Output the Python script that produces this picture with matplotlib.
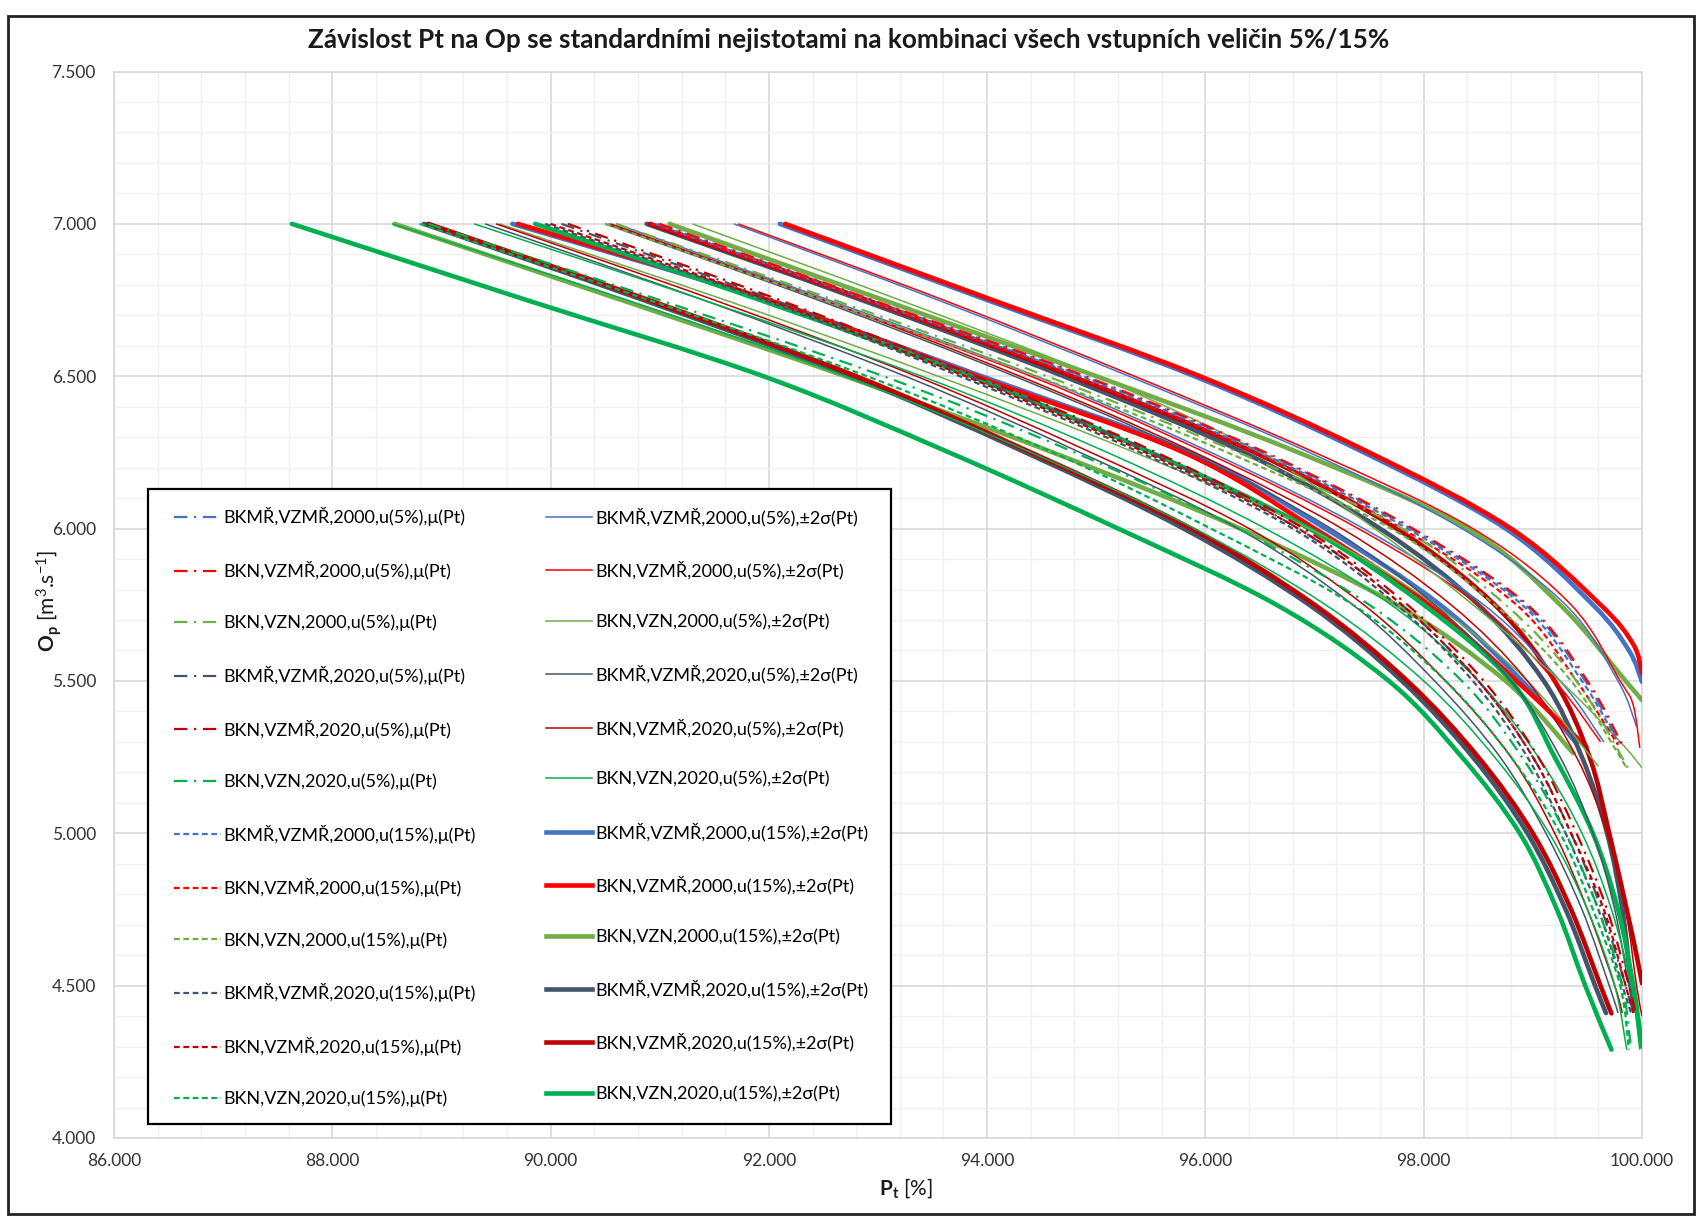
import matplotlib
matplotlib.use('Agg')
import matplotlib.pyplot as plt
from matplotlib.ticker import MultipleLocator, FormatStrFormatter
from matplotlib.patches import Rectangle, PathPatch
from matplotlib.path import Path
from matplotlib.lines import Line2D

plt.rcParams['font.family'] = ['Lato', 'DejaVu Sans']
plt.rcParams['mathtext.fontset'] = 'custom'
plt.rcParams['mathtext.rm'] = 'Lato'
plt.rcParams['mathtext.it'] = 'Lato:italic'
plt.rcParams['mathtext.bf'] = 'Lato:bold'

# ---------------- data ----------------
scenarios = ["BKMŘ,VZMŘ,2000", "BKN,VZMŘ,2000", "BKN,VZN,2000",
             "BKMŘ,VZMŘ,2020", "BKN,VZMŘ,2020", "BKN,VZN,2020"]
colors = ["#4472C4", "#FF0000", "#70AD47", "#44546A", "#C00000", "#00B050"]

# Scenario A : BKMŘ,VZMŘ,2000
A_mu5 = ([90.98, 92.93, 94.88, 96.53, 97.88, 98.93, 99.48, 99.80], [7.0, 6.75, 6.5, 6.25, 6.0, 5.75, 5.5, 5.29])
A_mu15 = ([90.95, 92.90, 94.85, 96.50, 97.85, 98.90, 99.45, 99.78], [7.0, 6.75, 6.5, 6.25, 6.0, 5.75, 5.5, 5.30])
A_lo5 = ([90.60, 92.55, 94.45, 96.05, 97.45, 98.55, 99.25, 99.65], [7.0, 6.75, 6.5, 6.25, 6.0, 5.75, 5.5, 5.30])
A_up5 = ([91.68, 93.55, 95.30, 96.95, 98.35, 99.30, 99.78, 99.95], [7.0, 6.75, 6.5, 6.25, 6.0, 5.75, 5.5, 5.35])
A_lo15 = ([89.65, 91.98, 93.95, 95.85, 97.10, 98.15, 98.90, 99.40], [7.0, 6.75, 6.5, 6.25, 6.0, 5.75, 5.5, 5.295])
A_up15 = ([92.10, 94.00, 95.90, 97.45, 98.75, 99.55, 99.88, 100.0], [7.0, 6.75, 6.5, 6.25, 6.0, 5.75, 5.6, 5.497])

# Scenario B : BKN,VZMŘ,2000
B_mu5 = ([91.00, 92.95, 94.90, 96.55, 97.90, 98.95, 99.50, 99.82], [7.0, 6.75, 6.5, 6.25, 6.0, 5.75, 5.5, 5.29])
B_mu15 = ([90.92, 92.88, 94.80, 96.45, 97.80, 98.85, 99.40, 99.78], [7.0, 6.75, 6.5, 6.25, 6.0, 5.75, 5.5, 5.29])
B_lo5 = ([90.53, 92.50, 94.40, 96.00, 97.40, 98.50, 99.20, 99.62], [7.0, 6.75, 6.5, 6.25, 6.0, 5.75, 5.5, 5.30])
B_up5 = ([91.72, 93.60, 95.35, 97.00, 98.45, 99.35, 99.80, 99.92, 99.98], [7.0, 6.75, 6.5, 6.25, 6.0, 5.75, 5.5, 5.42, 5.28])
B_lo15 = ([89.70, 92.00, 93.90, 95.80, 97.00, 98.05, 98.85, 99.49], [7.0, 6.75, 6.5, 6.25, 6.0, 5.75, 5.5, 5.284])
B_up15 = ([92.15, 94.05, 95.95, 97.50, 98.80, 99.62, 99.92, 100.0], [7.0, 6.75, 6.5, 6.25, 6.0, 5.75, 5.62, 5.525])

# Scenario C : BKN,VZN,2000
C_mu5 = ([90.60, 92.60, 94.55, 96.30, 97.80, 98.75, 99.40, 99.87], [7.0, 6.75, 6.5, 6.25, 6.0, 5.75, 5.5, 5.215])
C_mu15 = ([90.50, 92.50, 94.45, 96.20, 97.70, 98.65, 99.35, 99.85], [7.0, 6.75, 6.5, 6.25, 6.0, 5.75, 5.5, 5.22])
C_lo5 = ([89.53, 91.60, 93.55, 95.35, 96.95, 98.10, 98.95, 99.60], [7.0, 6.75, 6.5, 6.25, 6.0, 5.75, 5.5, 5.22])
C_up5 = ([91.30, 93.20, 95.00, 96.50, 97.55, 98.45, 99.25, 99.80, 100.0], [7.0, 6.75, 6.5, 6.25, 6.0, 5.75, 5.5, 5.3, 5.215])
C_lo15 = ([88.57, 90.65, 92.70, 94.60, 96.32, 97.75, 98.75, 99.37], [7.0, 6.75, 6.5, 6.25, 6.0, 5.75, 5.5, 5.263])
C_up15 = ([91.09, 93.05, 95.00, 96.85, 98.40, 99.25, 99.85, 100.0], [7.0, 6.75, 6.5, 6.25, 6.0, 5.75, 5.5, 5.437])

# Scenario D : BKMŘ,VZMŘ,2020
D_mu5 = ([90.10, 92.05, 93.85, 95.50, 96.85, 97.80, 98.50, 99.00, 99.35, 99.63, 99.85, 99.92],
         [7.0, 6.75, 6.5, 6.25, 6.0, 5.75, 5.5, 5.25, 5.0, 4.75, 4.5, 4.41])
D_mu15 = ([89.95, 91.95, 93.75, 95.40, 96.80, 97.75, 98.45, 98.95, 99.30, 99.60, 99.82, 99.90],
          [7.0, 6.75, 6.5, 6.25, 6.0, 5.75, 5.5, 5.25, 5.0, 4.75, 4.5, 4.41])
D_lo5 = ([89.40, 91.40, 93.25, 94.85, 96.30, 97.35, 98.10, 98.70, 99.12, 99.45, 99.70, 99.78],
         [7.0, 6.75, 6.5, 6.25, 6.0, 5.75, 5.5, 5.25, 5.0, 4.75, 4.5, 4.41])
D_up5 = ([90.50, 92.45, 94.25, 95.85, 97.15, 98.10, 98.80, 99.25, 99.55, 99.75, 99.88, 99.94],
         [7.0, 6.75, 6.5, 6.25, 6.0, 5.75, 5.5, 5.25, 5.0, 4.75, 4.5, 4.41])
D_lo15 = ([88.84, 90.85, 92.75, 94.35, 95.80, 96.95, 97.80, 98.45, 98.95, 99.30, 99.57, 99.67],
          [7.0, 6.75, 6.5, 6.25, 6.0, 5.75, 5.5, 5.25, 5.0, 4.75, 4.5, 4.41])
D_up15 = ([90.88, 92.85, 94.70, 96.35, 97.60, 98.50, 99.10, 99.45, 99.68, 99.82, 99.90, 99.93],
          [7.0, 6.75, 6.5, 6.25, 6.0, 5.75, 5.5, 5.25, 5.0, 4.75, 4.5, 4.42])

# Scenario E : BKN,VZMŘ,2020
E_mu5 = ([90.16, 92.10, 93.90, 95.55, 96.90, 97.85, 98.55, 99.05, 99.40, 99.68, 99.88, 99.94],
         [7.0, 6.75, 6.5, 6.25, 6.0, 5.75, 5.5, 5.25, 5.0, 4.75, 4.5, 4.41])
E_mu15 = ([90.00, 92.00, 93.80, 95.45, 96.85, 97.80, 98.50, 99.00, 99.35, 99.65, 99.85, 99.92],
          [7.0, 6.75, 6.5, 6.25, 6.0, 5.75, 5.5, 5.25, 5.0, 4.75, 4.5, 4.41])
E_lo5 = ([89.50, 91.50, 93.35, 94.95, 96.40, 97.45, 98.20, 98.80, 99.20, 99.50, 99.75, 99.82],
         [7.0, 6.75, 6.5, 6.25, 6.0, 5.75, 5.5, 5.25, 5.0, 4.75, 4.5, 4.41])
E_up5 = ([90.55, 92.50, 94.30, 95.90, 97.25, 98.25, 98.95, 99.40, 99.68, 99.85, 99.95, 100.0],
         [7.0, 6.75, 6.5, 6.25, 6.0, 5.75, 5.5, 5.25, 5.0, 4.75, 4.5, 4.40])
E_lo15 = ([88.88, 90.90, 92.80, 94.40, 95.87, 97.00, 97.85, 98.50, 99.00, 99.35, 99.62, 99.72],
          [7.0, 6.75, 6.5, 6.25, 6.0, 5.75, 5.5, 5.25, 5.0, 4.75, 4.5, 4.409])
E_up15 = ([90.91, 92.90, 94.78, 96.45, 97.75, 98.65, 99.20, 99.52, 99.70, 99.86, 99.95, 100.0],
          [7.0, 6.75, 6.5, 6.25, 6.0, 5.75, 5.5, 5.25, 5.0, 4.75, 4.6, 4.508])

# Scenario F : BKN,VZN,2020
F_mu5 = ([88.88, 91.00, 93.05, 94.80, 96.30, 97.50, 98.35, 98.90, 99.30, 99.60, 99.82, 99.90],
         [7.0, 6.75, 6.5, 6.25, 6.0, 5.75, 5.5, 5.25, 5.0, 4.75, 4.5, 4.29])
F_mu15 = ([88.80, 90.90, 92.90, 94.60, 96.05, 97.35, 98.20, 98.80, 99.25, 99.55, 99.80, 99.88],
          [7.0, 6.75, 6.5, 6.25, 6.0, 5.75, 5.5, 5.25, 5.0, 4.75, 4.5, 4.29])
F_lo5 = ([88.55, 90.70, 92.70, 94.40, 95.90, 97.10, 98.00, 98.65, 99.15, 99.50, 99.75, 99.86],
         [7.0, 6.75, 6.5, 6.25, 6.0, 5.75, 5.5, 5.25, 5.0, 4.75, 4.5, 4.29])
F_up5 = ([89.30, 91.40, 93.40, 95.10, 96.55, 97.70, 98.50, 99.05, 99.45, 99.72, 99.90, 99.98],
         [7.0, 6.75, 6.5, 6.25, 6.0, 5.75, 5.5, 5.25, 5.0, 4.75, 4.5, 4.29])
F_lo15 = ([87.63, 89.78, 91.95, 93.65, 95.20, 96.65, 97.68, 98.35, 98.88, 99.22, 99.48, 99.72],
          [7.0, 6.75, 6.5, 6.25, 6.0, 5.75, 5.5, 5.25, 5.0, 4.75, 4.5, 4.29])
F_up15 = ([89.86, 91.92, 93.85, 95.50, 96.95, 98.00, 98.80, 99.20, 99.55, 99.78, 99.92, 100.0],
          [7.0, 6.75, 6.5, 6.25, 6.0, 5.75, 5.5, 5.25, 5.0, 4.75, 4.5, 4.30])

mu5_curves = [A_mu5, B_mu5, C_mu5, D_mu5, E_mu5, F_mu5]
mu15_curves = [A_mu15, B_mu15, C_mu15, D_mu15, E_mu15, F_mu15]
band5_curves = [(A_lo5, A_up5), (B_lo5, B_up5), (C_lo5, C_up5), (D_lo5, D_up5), (E_lo5, E_up5), (F_lo5, F_up5)]
band15_curves = [(A_lo15, A_up15), (B_lo15, B_up15), (C_lo15, C_up15), (D_lo15, D_up15), (E_lo15, E_up15), (F_lo15, F_up15)]

title = "Závislost Pt na Op se standardními nejistotami na kombinaci všech vstupních veličin 5%/15%"
x_ticks = [86, 88, 90, 92, 94, 96, 98, 100]
y_ticks = [4.0, 4.5, 5.0, 5.5, 6.0, 6.5, 7.0, 7.5]


def smooth_path(xs, ys):
    """Excel-like smoothed line through the data points (cubic Bezier segments)."""
    pts = list(zip(xs, ys))
    n = len(pts)
    verts = [pts[0]]
    codes = [Path.MOVETO]
    for i in range(n - 1):
        p0 = pts[i - 1] if i > 0 else pts[i]
        p1, p2 = pts[i], pts[i + 1]
        p3 = pts[i + 2] if i + 2 < n else pts[i + 1]
        c1 = (p1[0] + (p2[0] - p0[0]) / 6.0, p1[1] + (p2[1] - p0[1]) / 6.0)
        c2 = (p2[0] - (p3[0] - p1[0]) / 6.0, p2[1] - (p3[1] - p1[1]) / 6.0)
        verts += [c1, c2, p2]
        codes += [Path.CURVE4] * 3
    return Path(verts, codes)


def draw(ax, curve, **kw):
    patch = PathPatch(smooth_path(curve[0], curve[1]), fill=False, **kw)
    ax.add_patch(patch)
    return patch


# ---------------- figure ----------------
W, H = 1698, 1217
fig = plt.figure(figsize=(W / 100, H / 100), dpi=100)
ax = fig.add_axes([114 / W, 1 - 1138 / H, (1642 - 114) / W, (1138 - 71.5) / H])

DASHDOT = (0, (6, 3, 1, 3))
DASHED = (0, (2.6, 1.6))
LW_THICK, LW_THIN, LW_MU = 3.3, 1.1, 1.6

mu5_h, mu15_h, b5_h, b15_h = [], [], [], []
for i, sc in enumerate(scenarios):
    c = colors[i]
    for cur in band15_curves[i]:
        draw(ax, cur, edgecolor=c, lw=LW_THICK, capstyle='round', joinstyle='round', zorder=3)
    b15_h.append(Line2D([], [], color=c, lw=LW_THICK, label=f"{sc},u(15%),±2σ(Pt)"))
for i, sc in enumerate(scenarios):
    c = colors[i]
    for cur in band5_curves[i]:
        draw(ax, cur, edgecolor=c, lw=LW_THIN, zorder=4)
    b5_h.append(Line2D([], [], color=c, lw=LW_THIN, label=f"{sc},u(5%),±2σ(Pt)"))
for i, sc in enumerate(scenarios):
    c = colors[i]
    draw(ax, mu5_curves[i], edgecolor=c, lw=LW_MU, linestyle=DASHDOT, capstyle='butt', zorder=5)
    draw(ax, mu15_curves[i], edgecolor=c, lw=LW_MU, linestyle=DASHED, capstyle='butt', zorder=5)
    mu5_h.append(Line2D([], [], color=c, lw=LW_MU, ls=DASHDOT, label=f"{sc},u(5%),μ(Pt)"))
    mu15_h.append(Line2D([], [], color=c, lw=LW_MU, ls=DASHED, label=f"{sc},u(15%),μ(Pt)"))

ax.set_xlim(86, 100)
ax.set_ylim(4.0, 7.5)
ax.set_xticks(x_ticks)
ax.set_yticks(y_ticks)
ax.xaxis.set_minor_locator(MultipleLocator(0.4))
ax.yaxis.set_minor_locator(MultipleLocator(0.1))
ax.xaxis.set_major_formatter(FormatStrFormatter('%.3f'))
ax.yaxis.set_major_formatter(FormatStrFormatter('%.3f'))
ax.grid(which='minor', color='#f0f0f0', lw=1.0, zorder=0)
ax.grid(which='major', color='#d9d9d9', lw=1.2, zorder=0)
ax.set_axisbelow(True)
ax.tick_params(which='both', length=0, labelsize=12.5, labelcolor='#333333')
ax.tick_params(axis='y', pad=13)
ax.tick_params(axis='x', pad=11)
for s in ax.spines.values():
    s.set_color('#d9d9d9')
    s.set_linewidth(1.2)

# legend frame (drawn separately so that padding matches the original)
ax.add_patch(Rectangle((0.022, 0.0132), 0.4862, 0.5949, transform=ax.transAxes,
                       facecolor='white', edgecolor='black', lw=1.6, zorder=9))

handles = mu5_h + mu15_h + b5_h + b15_h
labels = [h.get_label() for h in handles]
leg = ax.legend(handles, labels, ncol=2, loc='upper left',
                bbox_to_anchor=(0.039, 0.5912, 0.455, 0.0), mode='expand',
                fontsize=13, frameon=False, borderaxespad=0,
                handlelength=2.6, handletextpad=0.18, labelspacing=1.92,
                columnspacing=3.0, borderpad=0.0)
leg.set_zorder(10)

fig.text(0.5, 1 - 40 / H, title, ha='center', va='center', fontsize=18.8, fontweight='bold', color='#1a1a1a')
fig.text(906 / W, 1 - 1188 / H, r'$\mathbf{P_t}$ [%]', ha='center', va='center', fontsize=15, color='#1a1a1a')
fig.text(49 / W, 1 - 601 / H, r'$\mathbf{O_p}$ [m$^3$.s$^{-1}$]', ha='center', va='center',
         rotation=90, fontsize=15, color='#1a1a1a')

fig.patches.append(Rectangle((8 / W, 3 / H), (1694 - 8) / W, (1201 - 3) / H, transform=fig.transFigure,
                             fill=False, edgecolor='#222222', lw=2.0))

fig.savefig('out.png', dpi=100, facecolor='white')
